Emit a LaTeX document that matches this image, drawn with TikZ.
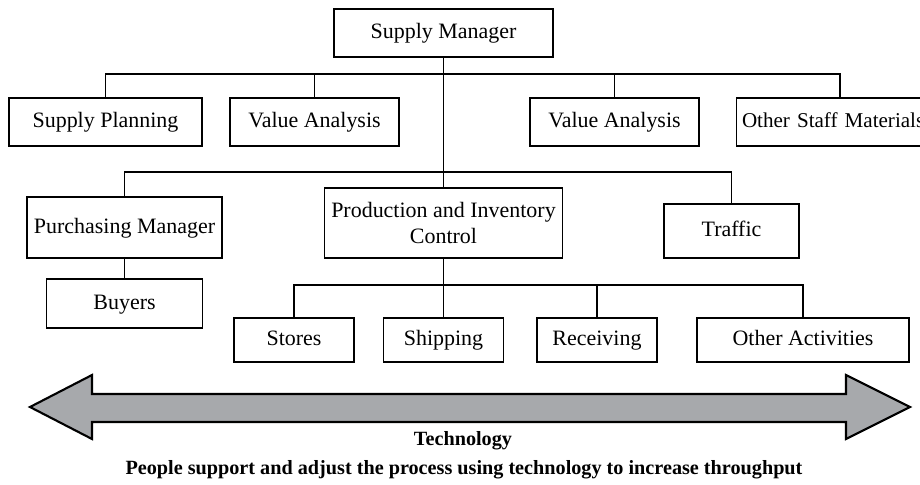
\documentclass[tikz,border=0pt]{standalone}
\usepackage{fontspec}
\setmainfont{Liberation Serif}
\usepackage{xcolor}
\usepackage{tikz}
\usetikzlibrary{positioning,calc}
\definecolor{arrowgray}{RGB}{167,169,172}

\tikzset{
    unit/.style={draw, line width=0.6pt, inner sep=2pt, align=center,
        minimum height=48*0.02cm, font=\fontsize{12.5}{15}\selectfont,
        text height=1.45ex, text depth=0pt},
    twoline/.style={text height=, text depth=},
    link/.style={line width=0.6pt}
}

\begin{document}
\begin{tikzpicture}[x=0.02cm, y=-0.02cm]
\useasboundingbox (0,0) rectangle (920,484);

% top of the chart
\node[unit, minimum width=219*0.02cm] (sm) at (443.5,33) {Supply Manager};
\node[unit, minimum width=193*0.02cm] (sp) at (105.5,122) {Supply Planning};
\node[unit, minimum width=169*0.02cm] (va1) at (314.5,122) {Value Analysis};
\node[unit, minimum width=169*0.02cm] (va2) at (614.5,122) {Value Analysis};
\node[unit, text width=196*0.02cm, align=left, inner xsep=3pt,
    font=\fontsize{12}{15}\selectfont] (osm) at (840,122) {Other Staff Materials};

% line functions
\node[unit, minimum width=195*0.02cm, minimum height=61*0.02cm] (pm) at (124.5,227.5) {Purchasing Manager};
\node[unit, twoline, minimum width=238*0.02cm, minimum height=70*0.02cm] (pic) at (443.5,223) {Production and Inventory\\Control};
\node[unit, minimum width=135*0.02cm, minimum height=54*0.02cm] (tr) at (731.5,231) {Traffic};
\node[unit, minimum width=156*0.02cm, minimum height=49*0.02cm] (by) at (124.5,303.5) {Buyers};

% activities
\node[unit, minimum width=120*0.02cm, minimum height=44*0.02cm] (st) at (294,340) {Stores};
\node[unit, minimum width=120*0.02cm, minimum height=44*0.02cm] (sh) at (443.5,340) {Shipping};
\node[unit, minimum width=120*0.02cm, minimum height=44*0.02cm] (rc) at (597,340) {Receiving};
\node[unit, minimum width=212*0.02cm, minimum height=44*0.02cm] (oa) at (803,340) {Other Activities};

\coordinate (bus1) at (0,74);
\coordinate (bus2) at (0,172);
\coordinate (bus3) at (0,285);

\draw[link] (sm.south) -- (pic.north);
\draw[link] (sp.north) -- (sp.north |- bus1) -| (osm.north);
\foreach \n in {va1,va2}
    \draw[link] (\n.north) -- (\n.north |- bus1);
\draw[link] (pm.north) -- (pm.north |- bus2) -| (tr.north);
\draw[link] (pm.south) -- (by.north);
\draw[link] (pic.south) -- (sh.north);
\draw[link] (st.north) -- (st.north |- bus3) -| (oa.north);
\draw[link] (rc.north) -- (rc.north |- bus3);

% technology band
\draw[line width=1.2pt, fill=arrowgray, line join=miter]
    (30,407) -- (92,375) -- (92,394) -- (846,394) -- (846,375) -- (910,407)
    -- (846,439) -- (846,422) -- (92,422) -- (92,439) -- cycle;

\node[font=\fontsize{11.5}{13}\selectfont\bfseries] (tech) at (463,441) {Technology};
\node[font=\fontsize{11.5}{13}\selectfont\bfseries] (note) at (464,470)
    {People support and adjust the process using technology to increase throughput};
\end{tikzpicture}
\end{document}
